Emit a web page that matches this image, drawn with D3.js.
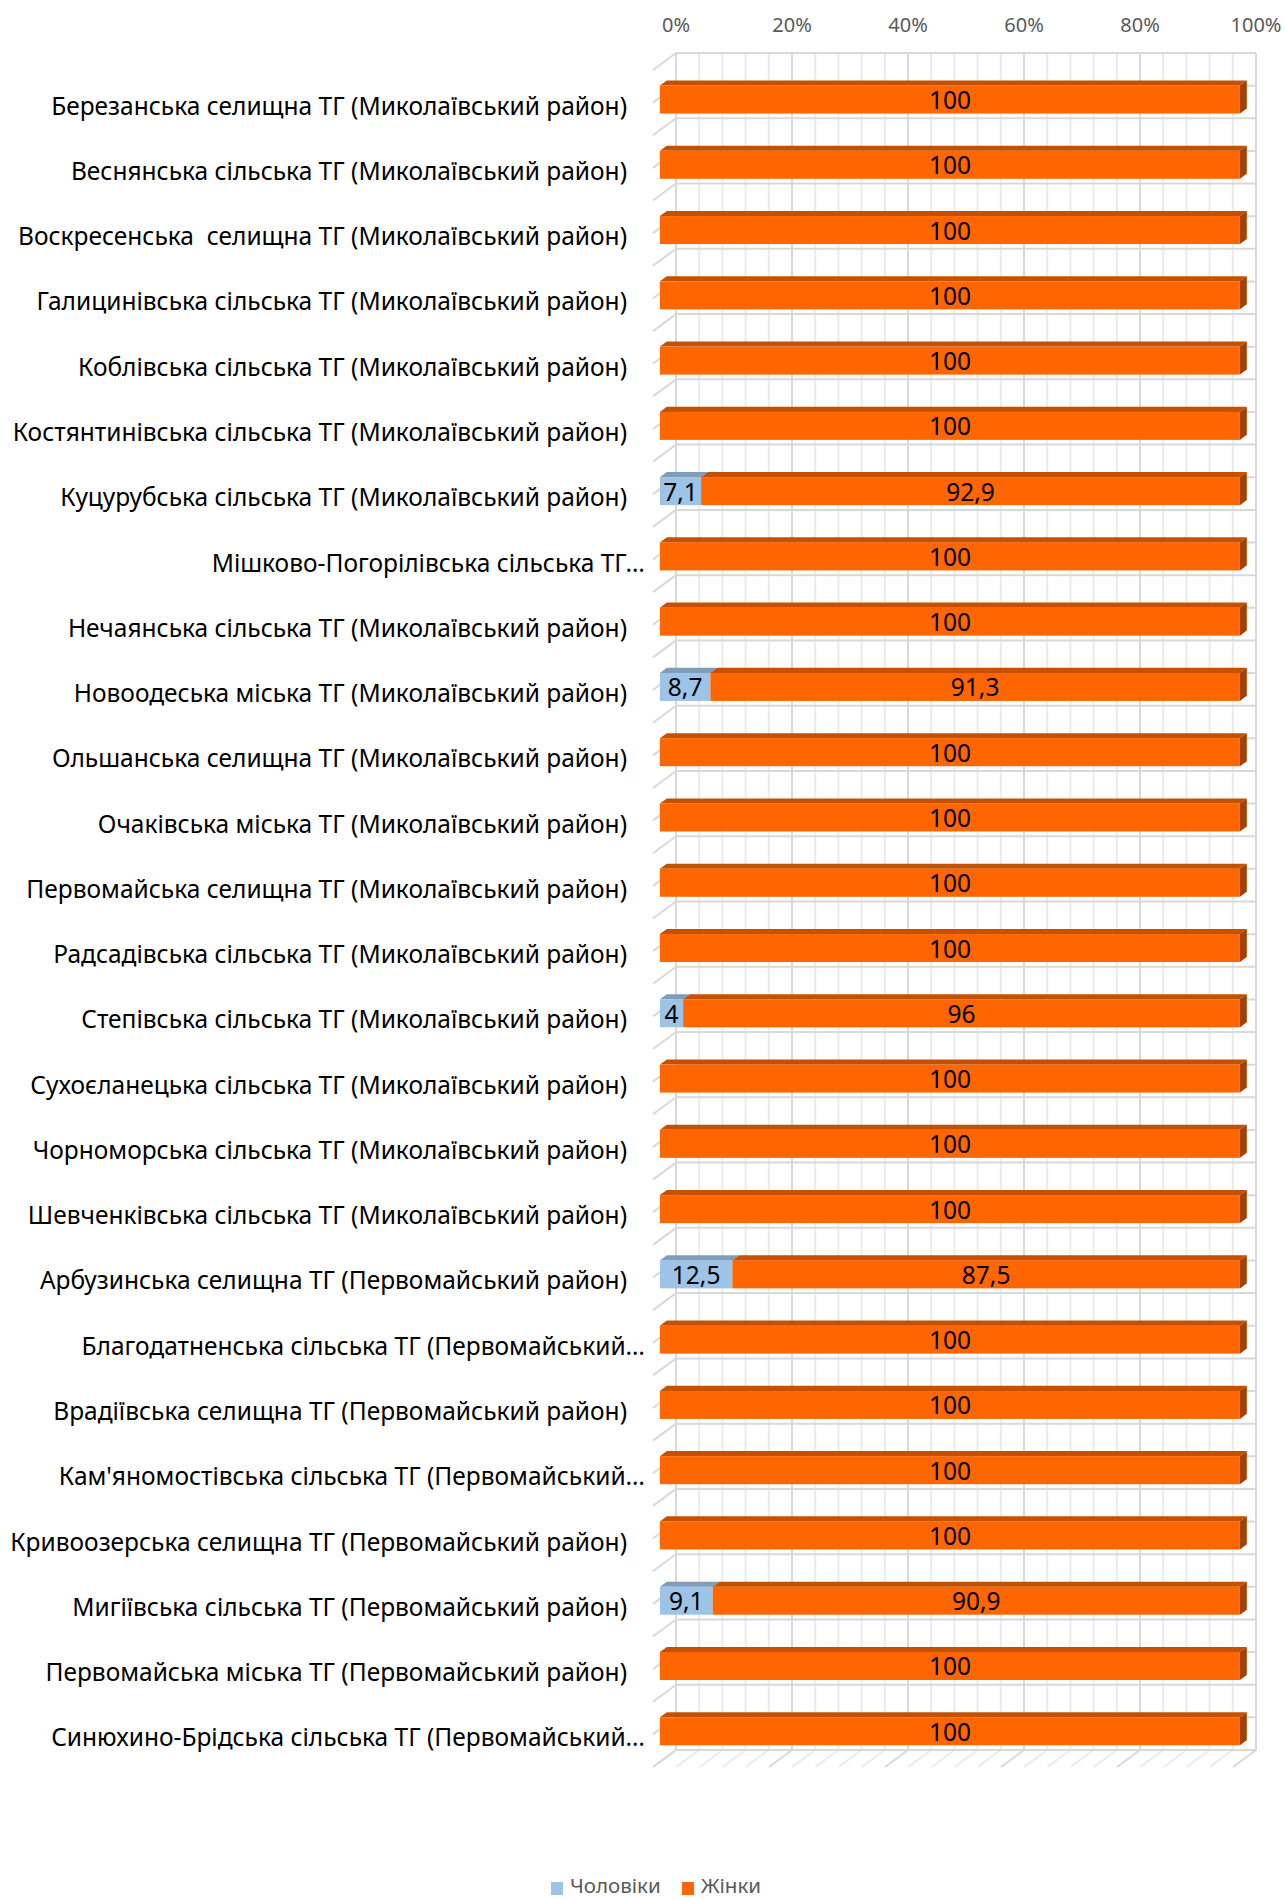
<!DOCTYPE html>
<meta charset="utf-8">
<style>
  body { margin: 0; background: #fff; }
  text { font-family: "Noto Sans", sans-serif; white-space: pre; }
</style>
<div id="chart"></div>
<script src="https://d3js.org/d3.v7.min.js"></script>
<script>

var categories = [
  "Березанська селищна ТГ (Миколаївський район)",
  "Веснянська сільська ТГ (Миколаївський район)",
  "Воскресенська  селищна ТГ (Миколаївський район)",
  "Галицинівська сільська ТГ (Миколаївський район)",
  "Коблівська сільська ТГ (Миколаївський район)",
  "Костянтинівська сільська ТГ (Миколаївський район)",
  "Куцурубська сільська ТГ (Миколаївський район)",
  "Мішково-Погорілівська сільська ТГ…",
  "Нечаянська сільська ТГ (Миколаївський район)",
  "Новоодеська міська ТГ (Миколаївський район)",
  "Ольшанська селищна ТГ (Миколаївський район)",
  "Очаківська міська ТГ (Миколаївський район)",
  "Первомайська селищна ТГ (Миколаївський район)",
  "Радсадівська сільська ТГ (Миколаївський район)",
  "Степівська сільська ТГ (Миколаївський район)",
  "Сухоєланецька сільська ТГ (Миколаївський район)",
  "Чорноморська сільська ТГ (Миколаївський район)",
  "Шевченківська сільська ТГ (Миколаївський район)",
  "Арбузинська селищна ТГ (Первомайський район)",
  "Благодатненська сільська ТГ (Первомайський…",
  "Врадіївська селищна ТГ (Первомайський район)",
  "Кам'яномостівська сільська ТГ (Первомайський…",
  "Кривоозерська селищна ТГ (Первомайський район)",
  "Мигіївська сільська ТГ (Первомайський район)",
  "Первомайська міська ТГ (Первомайський район)",
  "Синюхино-Брідська сільська ТГ (Первомайський…"
];

var men   = [0, 0, 0, 0, 0, 0, 7.1, 0, 0, 8.7, 0, 0, 0, 0, 4, 0, 0, 0, 12.5, 0, 0, 0, 0, 9.1, 0, 0];
var women = [100, 100, 100, 100, 100, 100, 92.9, 100, 100, 91.3, 100, 100, 100, 100, 96, 100, 100, 100, 87.5, 100, 100, 100, 100, 90.9, 100, 100];

var seriesNames = ["Чоловіки", "Жінки"];
var tickValues = [0, 20, 40, 60, 80, 100];

var width = 1286, height = 1899;
var wall = {left: 676, right: 1256, top: 53, bottom: 1750};
var depth = [-23, 17];          // full floor depth (screen offset)
var barH = 28;

var colors = {
  front: ["#9dc3e6", "#ff6600"],
  top:   ["#7f9cb8", "#c45000"],
  side:  ["#7f9cb8", "#a34200"]
};

function off(z) { return [depth[0] * z, depth[1] * z]; }

var svg = d3.select("#chart")
  .append("svg")
    .attr("width", width)
    .attr("height", height);

var x = d3.scaleLinear()
  .domain([0, 100])
  .range([wall.left, wall.right]);

var y = d3.scaleBand()
  .domain(categories)
  .range([wall.top, wall.bottom]);

var fmt = d3.formatLocale({decimal: ",", thousands: " ", grouping: [3], currency: ["", ""]}).format("~g");

// grid: back wall verticals + floor diagonals
var minor = d3.range(0, 101, 4);
var grid = svg.append("g");

grid.selectAll(".fl")
  .data(minor)
  .enter().append("line")
    .attr("x1", function(d) { return x(d); })
    .attr("y1", wall.bottom)
    .attr("x2", function(d) { return x(d) + depth[0]; })
    .attr("y2", wall.bottom + depth[1])
    .attr("stroke", function(d) { return d % 20 == 0 ? "#d9d9d9" : "#ebebeb"; })
    .attr("stroke-width", 2);

grid.selectAll(".vl")
  .data(minor)
  .enter().append("line")
    .attr("x1", function(d) { return x(d); })
    .attr("x2", function(d) { return x(d); })
    .attr("y1", wall.top)
    .attr("y2", wall.bottom)
    .attr("stroke", function(d) { return d % 20 == 0 ? "#d9d9d9" : "#ebebeb"; })
    .attr("stroke-width", 2);

// horizontal lines on back wall and side wall (every half band)
var halfs = d3.range(0, categories.length * 2 + 1).map(function(k) {
  return wall.top + k * y.bandwidth() / 2;
});

grid.selectAll(".hl")
  .data(halfs)
  .enter().append("line")
    .attr("x1", wall.left)
    .attr("x2", wall.right)
    .attr("y1", function(d) { return d; })
    .attr("y2", function(d) { return d; })
    .attr("stroke", "#d9d9d9")
    .attr("stroke-width", 2);

grid.selectAll(".sl")
  .data(halfs)
  .enter().append("line")
    .attr("x1", wall.left)
    .attr("y1", function(d) { return d; })
    .attr("x2", wall.left + depth[0])
    .attr("y2", function(d) { return d + depth[1]; })
    .attr("stroke", "#d9d9d9")
    .attr("stroke-width", 2);

// top tick labels
svg.append("g").selectAll("text")
  .data(tickValues)
  .enter().append("text")
    .attr("x", function(d) { return x(d); })
    .attr("y", 32)
    .attr("text-anchor", "middle")
    .attr("font-size", "20px")
    .attr("fill", "#595959")
    .text(function(d) { return d + "%"; });

// stacked bars
var rows = categories.map(function(c, i) { return {cat: c, m: men[i], w: women[i]}; });
var stack = d3.stack().keys(["m", "w"])(rows);

var zb = off(0.4), zf = off(0.7);

rows.forEach(function(r, i) {
  var g = svg.append("g");
  var yt = y(r.cat) + y.bandwidth() / 2 - barH / 2 + 2;
  var last = r.w > 0 ? 1 : 0;
  stack.forEach(function(s, k) {
    var v = s[i];
    if (v[1] - v[0] <= 0) return;
    var x0 = x(v[0]), x1 = x(v[1]);
    var fyt = yt + zf[1], fyb = fyt + barH;
    var byt = yt + zb[1], byb = byt + barH;
    // top face
    g.append("polygon")
      .attr("points", [[x0 + zf[0], fyt], [x1 + zf[0], fyt], [x1 + zb[0], byt], [x0 + zb[0], byt]].join(" "))
      .attr("fill", colors.top[k]);
    // right side face (visible end only)
    if (k == last) {
      g.append("polygon")
        .attr("points", [[x1 + zf[0], fyt], [x1 + zb[0], byt], [x1 + zb[0], byb], [x1 + zf[0], fyb]].join(" "))
        .attr("fill", colors.side[k]);
    }
    // front face
    g.append("rect")
      .attr("x", x0 + zf[0])
      .attr("y", fyt)
      .attr("width", x1 - x0)
      .attr("height", barH)
      .attr("fill", colors.front[k]);
    // value label
    g.append("text")
      .attr("x", (x0 + x1) / 2 + zf[0])
      .attr("y", fyt + barH / 2 + 9.5)
      .attr("text-anchor", "middle")
      .attr("font-size", "24.5px")
      .attr("fill", "#000")
      .text(fmt(v[1] - v[0]));
  });
});

// category labels
svg.append("g").selectAll("text")
  .data(categories)
  .enter().append("text")
    .attr("x", function(d) { return d.slice(-1) == "…" ? 645 : 627; })
    .attr("y", function(d) { return y(d) + y.bandwidth() / 2 + 29; })
    .attr("text-anchor", "end")
    .attr("font-size", "24.5px")
    .attr("fill", "#000")
    .text(function(d) { return d; });

// legend
var legend = svg.append("g");
var legX = [551, 682];
seriesNames.forEach(function(n, k) {
  legend.append("rect")
    .attr("x", legX[k])
    .attr("y", 1882)
    .attr("width", 12)
    .attr("height", 13)
    .attr("fill", colors.front[k]);
  legend.append("text")
    .attr("x", legX[k] + 19)
    .attr("y", 1893)
    .attr("font-size", "20.5px")
    .attr("fill", "#595959")
    .text(n);
});

</script>
